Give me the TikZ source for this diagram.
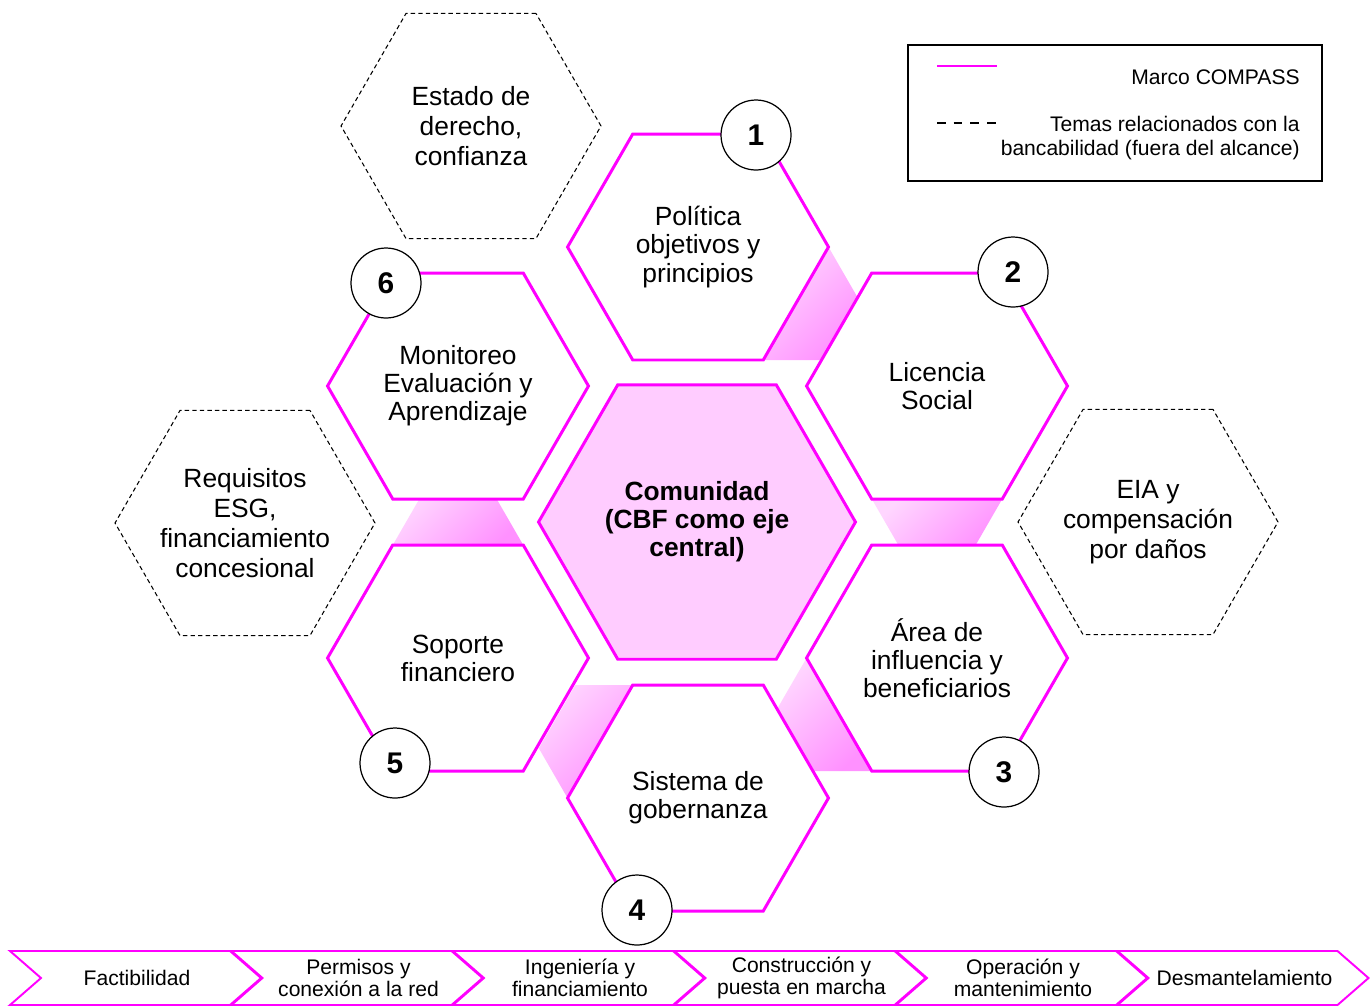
\documentclass[tikz,border=0pt]{standalone}
\usepackage{fontspec}
\setmainfont{Liberation Sans}
\usetikzlibrary{shapes.geometric,calc,backgrounds}

\definecolor{compass}{RGB}{255,0,255}
\definecolor{hexpink}{RGB}{255,204,255}
\definecolor{gaplight}{RGB}{255,214,255}
\definecolor{gapdark}{RGB}{255,145,255}

\tikzset{
	hexa/.style={regular polygon,regular polygon sides=6,minimum size=5.22cm,inner sep=0pt,outer sep=0pt,
		draw=compass,line width=1.7pt,fill=white,align=center,font=\fontsize{15}{16}\selectfont},
	hexcentre/.style={hexa,minimum size=6.34cm,fill=hexpink,font=\fontsize{15}{16}\selectfont\bfseries},
	hexout/.style={regular polygon,regular polygon sides=6,minimum size=5.2cm,inner sep=-12pt,outer sep=0pt,
		draw=black,line width=0.6pt,dash pattern=on 2.5pt off 1.8pt,align=center,font=\fontsize{15}{17}\selectfont},
	numcircle/.style={circle,draw=black,line width=0.7pt,fill=white,minimum size=1.4cm,inner sep=0pt,
		font=\fontsize{17}{20}\selectfont\bfseries},
	gapfill/.style={left color=gaplight,right color=gapdark,shading angle=45},
	phasebox/.style={draw=compass,line width=1.1pt},
	phasetext/.style={align=center,font=\fontsize{12}{12.5}\selectfont},
	legendtext/.style={align=right,font=\fontsize{12}{13.6}\selectfont,inner sep=0pt}
}

\begin{document}
\begin{tikzpicture}[x=0.02cm,y=-0.02cm]
	\useasboundingbox (0,0) rectangle (1371,1005);

	% outside the scope
	\node[hexout] (estado) at (471,126) {Estado de\\derecho,\\confianza};
	\node[hexout] (esg) at (245,523) {Requisitos\\ESG,\\financiamiento\\concesional};
	\node[hexout] (eia) at (1148,522) {EIA y\\compensación\\por daños};

	% COMPASS ring
	\node[hexcentre] (hc) at (697,522) {Comunidad\\(CBF como eje\\central)};
	\node[hexa] (h1) at (698,247) {Política\\objetivos y\\principios};
	\node[hexa] (h2) at (937,386) {Licencia\\Social};
	\node[hexa] (h3) at (937,658) {Área de\\influencia y\\beneficiarios};
	\node[hexa] (h4) at (698,798) {Sistema de\\gobernanza};
	\node[hexa] (h5) at (458,658) {Soporte\\financiero};
	\node[hexa] (h6) at (458,386) {Monitoreo\\Evaluación y\\Aprendizaje};

	\begin{pgfonlayer}{background}
		\shade[gapfill] (h1.corner 6) -- ($(h1.corner 1)!1.44!(h1.corner 6)$) -- ($(h1.corner 4)!1.44!(h1.corner 5)$) -- (h1.corner 5) -- cycle;
		\shade[gapfill] (h2.corner 4) -- ($(h2.corner 3)!1.44!(h2.corner 4)$) -- ($(h2.corner 6)!1.44!(h2.corner 5)$) -- (h2.corner 5) -- cycle;
		\shade[gapfill] (h3.corner 3) -- ($(h3.corner 2)!1.44!(h3.corner 3)$) -- ($(h3.corner 5)!1.44!(h3.corner 4)$) -- (h3.corner 4) -- cycle;
		\shade[gapfill] (h4.corner 2) -- ($(h4.corner 1)!1.44!(h4.corner 2)$) -- ($(h4.corner 4)!1.44!(h4.corner 3)$) -- (h4.corner 3) -- cycle;
		\shade[gapfill] (h5.corner 2) -- ($(h5.corner 3)!1.44!(h5.corner 2)$) -- ($(h5.corner 6)!1.44!(h5.corner 1)$) -- (h5.corner 1) -- cycle;
	\end{pgfonlayer}

	% step numbers
	\node[numcircle] (n1) at (756,135) {1};
	\node[numcircle] (n2) at (1013,272) {2};
	\node[numcircle] (n3) at (1004,772) {3};
	\node[numcircle] (n4) at (637,910) {4};
	\node[numcircle] (n5) at (395,763) {5};
	\node[numcircle] (n6) at (386,283) {6};

	% legend
	\draw[line width=1.1pt] (908,45) rectangle (1322,181);
	\coordinate (la) at (937,66);
	\coordinate (lb) at (997,66);
	\coordinate (lc) at (937,123);
	\coordinate (ld) at (997,123);
	\draw[compass,line width=1.1pt] (la) -- (lb);
	\draw[line width=1.1pt,dash pattern=on 5pt off 4.5pt] (lc) -- (ld);
	\node[legendtext,anchor=east] (leg1) at (1300,77) {Marco COMPASS};
	\node[legendtext,anchor=east] (leg2) at (1300,138) {Temas relacionados con la\\bancabilidad (fuera del alcance)};

	% project phases
	\foreach \txt [count=\i from 0] in {Factibilidad,{Permisos y\\conexión a la red},{Ingeniería y\\financiamiento},
		{Construcción y\\puesta en marcha},{Operación y\\mantenimiento},Desmantelamiento}{
		\draw[phasebox] ({10+221.5*\i},951) -- ++(220,0) -- ++(31,27) -- ++(-31,27) -- ++(-220,0) -- ++(31,-27) -- cycle;
		\node[phasetext] (ph\i) at ({10+221.5*\i+127},978) {\txt};
	}
\end{tikzpicture}
\end{document}
